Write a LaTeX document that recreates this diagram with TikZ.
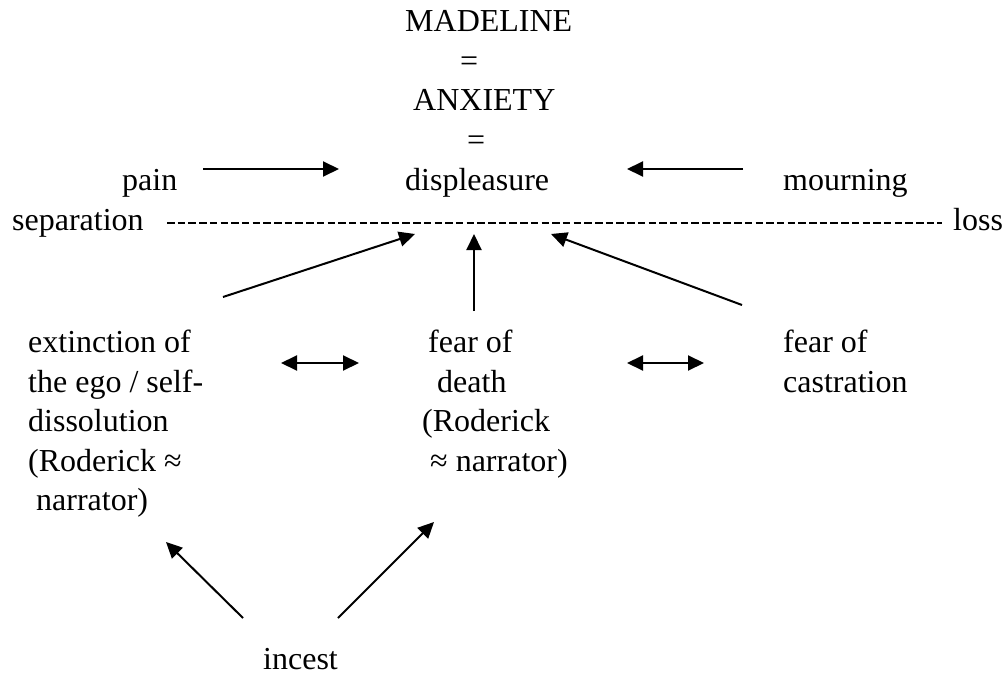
\documentclass[tikz,border=0pt]{standalone}
\usepackage{fontspec}
\setmainfont{Liberation Serif}
\usetikzlibrary{arrows.meta}
\begin{document}
\begin{tikzpicture}[x=1pt,y=-1pt,
  txt/.style={anchor=base west, inner sep=0pt, font=\fontsize{32}{39.5}\selectfont},
  arr/.style={-{Triangle[length=16pt,width=15pt]}, line width=2pt},
  darr/.style={{Triangle[length=16pt,width=15pt]}-{Triangle[length=16pt,width=15pt]}, line width=2pt},
  dashline/.style={line width=1.6pt, dash pattern=on 7.5pt off 3.2pt}]
\useasboundingbox (0,0) rectangle (1004,674);
% top column
\node[txt] (madeline) at (405,32) {MADELINE};
\node[txt] (eqa) at (460,72) {=};
\node[txt] (anxiety) at (413,111) {ANXIETY};
\node[txt] (eqb) at (467,150) {=};
\node[txt] (displeasure) at (405,190) {displeasure};
\node[txt] (pain) at (122,190) {pain};
\node[txt] (mourning) at (783,190) {mourning};
\node[txt] (separation) at (12,230) {separation};
\node[txt] (loss) at (953,230) {loss};
% left block
\node[txt] (ext1) at (28,352) {extinction of};
\node[txt] (ext2) at (28,392) {the ego / self-};
\node[txt] (ext3) at (28,431) {dissolution};
\node[txt] (ext4) at (28,471) {(Roderick ≈};
\node[txt] (ext5) at (36,510) {narrator)};
% middle block
\node[txt] (fd1) at (428,352) {fear of};
\node[txt] (fd2) at (437,392) {death};
\node[txt] (fd3) at (422,431) {(Roderick};
\node[txt] (fd4) at (430,471) {≈ narrator)};
% right block
\node[txt] (fc1) at (783,352) {fear of};
\node[txt] (fc2) at (783,392) {castration};
% bottom
\node[txt] (incest) at (263,669) {incest};
% arrow coordinates
\coordinate (painS) at (203,169);
\coordinate (painE) at (339,169);
\coordinate (mournS) at (743,169);
\coordinate (mournE) at (627,169);
\coordinate (sepS) at (167,223);
\coordinate (sepE) at (942,223);
\coordinate (extS) at (223,297);
\coordinate (extE) at (415,234);
\coordinate (fdS) at (474,311);
\coordinate (fdE) at (474,234);
\coordinate (fcS) at (742,305);
\coordinate (fcE) at (551,234);
\coordinate (dlA) at (281,363);
\coordinate (dlB) at (359,363);
\coordinate (drA) at (627,363);
\coordinate (drB) at (704,363);
\coordinate (inL) at (243,618);
\coordinate (inLE) at (166,542);
\coordinate (inR) at (338,618);
\coordinate (inRE) at (434,522);
% connectors
\draw[arr] (painS) -- (painE);
\draw[arr] (mournS) -- (mournE);
\draw[dashline] (sepS) -- (sepE);
\draw[arr] (extS) -- (extE);
\draw[arr] (fdS) -- (fdE);
\draw[arr] (fcS) -- (fcE);
\draw[darr] (dlA) -- (dlB);
\draw[darr] (drA) -- (drB);
\draw[arr] (inL) -- (inLE);
\draw[arr] (inR) -- (inRE);
\end{tikzpicture}
\end{document}
